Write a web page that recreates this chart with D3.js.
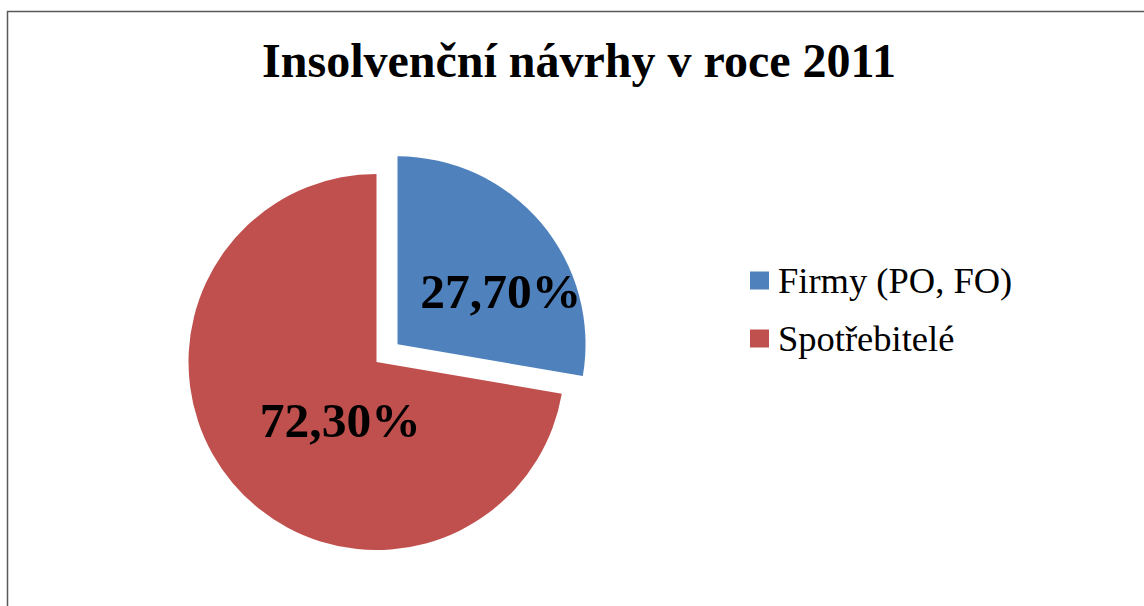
<!DOCTYPE html>
<html>
<head>
<meta charset="utf-8">
<script src="https://cdn.jsdelivr.net/npm/d3@7"></script>
<style>
  html, body { margin: 0; padding: 0; background: #fff; }
  svg { display: block; }
  text { font-family: "Liberation Serif", "Times New Roman", Times, "DejaVu Serif", serif; }
</style>
</head>
<body>
<div id="chart"></div>
<script>
const categories = ['Firmy (PO, FO)', 'Spotřebitelé'];
const shares = [27.7, 72.3];
const labels = ['27,70%', '72,30%'];
const colors = ['#4F81BD', '#C0504D'];
const exploded = [true, false];

const width = 1144, height = 606;
const radius = 188;
const cx = 376.5, cy = 362;
const explodeDist = 27.5;
// best-fit nudges for the data labels, relative to the arc centroid
const labelNudge = [[17, 19], [50, -15]];

const svg = d3.select('#chart').append('svg')
    .attr('width', width)
    .attr('height', height);

// chart frame (runs off the right and bottom)
svg.append('rect')
    .attr('x', 7.5).attr('y', 11.5)
    .attr('width', 1200).attr('height', 700)
    .attr('fill', 'none')
    .attr('stroke', '#595959')
    .attr('stroke-width', 1.5);

svg.append('text')
    .attr('x', 579)
    .attr('y', 77)
    .attr('text-anchor', 'middle')
    .style('font-weight', 'bold')
    .style('font-size', '48px')
    .text('Insolvenční návrhy v roce 2011');

const data = categories.map((c, i) => ({
    name: c, value: shares[i], label: labels[i], color: colors[i], explode: exploded[i], nudge: labelNudge[i]
}));

const pie = d3.pie().sort(null).value(d => d.value);
const arc = d3.arc().innerRadius(0).outerRadius(radius);
const labelArc = d3.arc().innerRadius(radius * 0.6).outerRadius(radius * 0.6);

const g = svg.append('g').attr('transform', `translate(${cx},${cy})`);

const slices = g.selectAll('g.slice')
    .data(pie(data))
    .enter().append('g')
    .attr('class', 'slice')
    .attr('transform', d => {
        if (!d.data.explode) return null;
        const a = (d.startAngle + d.endAngle) / 2;
        return `translate(${Math.sin(a) * explodeDist},${-Math.cos(a) * explodeDist})`;
    });

slices.append('path')
    .attr('d', arc)
    .attr('fill', d => d.data.color);

slices.append('text')
    .attr('transform', d => {
        const [x, y] = labelArc.centroid(d);
        return `translate(${x + d.data.nudge[0]},${y + d.data.nudge[1]})`;
    })
    .attr('text-anchor', 'middle')
    .attr('dy', '0.35em')
    .style('font-weight', 'bold')
    .style('font-size', '49.5px')
    .text(d => d.data.label);

const legend = svg.append('g').attr('transform', 'translate(750,271.5)');

const items = legend.selectAll('g.item')
    .data(data)
    .enter().append('g')
    .attr('class', 'item')
    .attr('transform', (d, i) => `translate(0,${i * 58})`);

items.append('rect')
    .attr('width', 19).attr('height', 18)
    .attr('fill', d => d.color);

items.append('text')
    .attr('x', 28)
    .attr('y', 21.5)
    .style('font-size', '36.5px')
    .text(d => d.name);
</script>
</body>
</html>
